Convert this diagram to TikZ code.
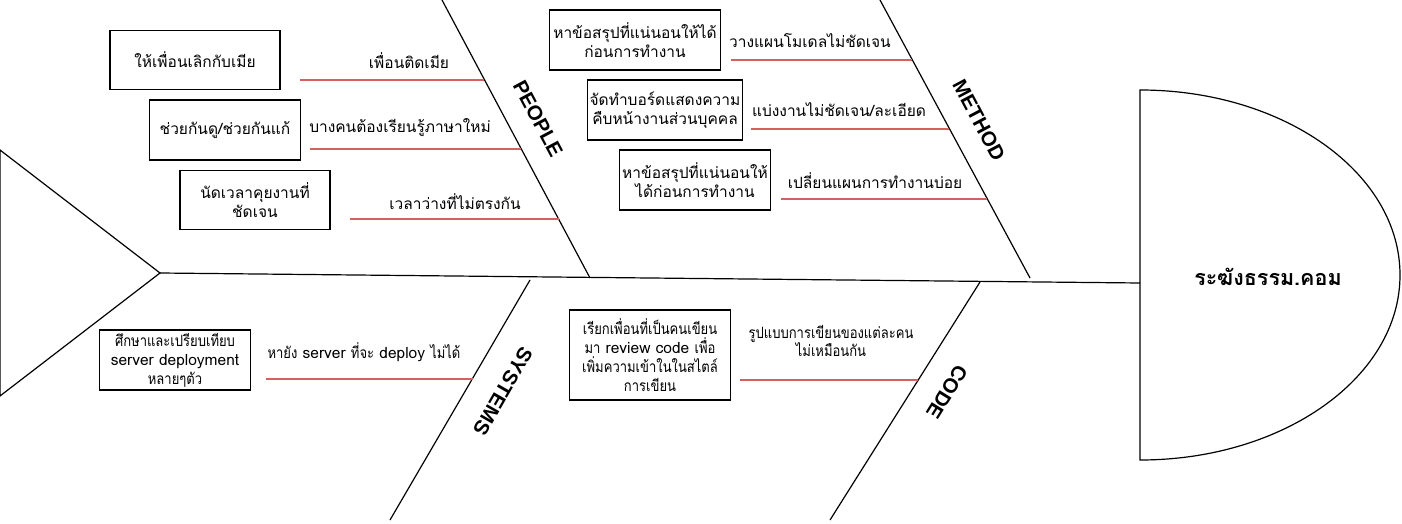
\documentclass[tikz,border=0pt]{standalone}
\usepackage{fontspec}
\setmainfont[Script=Thai]{Loma}
\newfontfamily\thainarrow[Script=Thai,FakeStretch=0.84]{Loma}
\newfontfamily\bonefont{Liberation Sans}
\usetikzlibrary{positioning, calc}
\definecolor{causeRed}{RGB}{212, 96, 96}

\begin{document}
\begin{tikzpicture}[x=1pt,y=-1pt,
  fixbox/.style={draw,line width=1.2pt,align=center,inner sep=2pt,font=\fontsize{15.5}{19}\selectfont},
  causetxt/.style={align=center,inner sep=1pt,font=\fontsize{15.5}{18}\selectfont},
  bone/.style={line width=1.2pt},
  causeline/.style={draw=causeRed,line width=1.3pt},
  bonelabel/.style={font=\bonefont\bfseries\fontsize{20.5}{22}\selectfont}]
\useasboundingbox (0,0) rectangle (1402,524);

% tail, spine, head
\coordinate (tailTop) at (0,150);
\coordinate (tailTip) at (160,273);
\coordinate (tailBot) at (0,396);
\coordinate (headIn) at (1140,283);
\draw[bone] (tailTop) -- (tailTip) -- (tailBot) -- cycle;
\draw[bone] (tailTip) -- (headIn);
\draw[bone] (1140,90) -- (1140,460) arc[start angle=90,end angle=-90,x radius=260,y radius=185] -- cycle;
\node[font=\bfseries\fontsize{21.5}{24}\selectfont] (headTxt) at (1268,277) {ระฆังธรรม.คอม};

% bones
\coordinate (peopleTop) at (442,0);
\coordinate (peopleEnd) at (590,278);
\coordinate (methodTop) at (880,0);
\coordinate (methodEnd) at (1030,278);
\coordinate (systemsEnd) at (530,280);
\coordinate (systemsBot) at (390,520);
\coordinate (codeEnd) at (980,282);
\coordinate (codeBot) at (830,520);
\draw[bone] (peopleTop) -- (peopleEnd);
\draw[bone] (methodTop) -- (methodEnd);
\draw[bone] (systemsEnd) -- (systemsBot);
\draw[bone] (codeEnd) -- (codeBot);
\node[bonelabel,rotate=-62] (peopleLbl) at (538,119) {PEOPLE};
\node[bonelabel,rotate=-62] (methodLbl) at (979,120) {METHOD};
\node[bonelabel,rotate=-120] (systemsLbl) at (503,391) {SYSTEMS};
\node[bonelabel,rotate=-122] (codeLbl) at (947,392) {CODE};

% people
\node[fixbox,minimum width=170,minimum height=59] (p1) at (195,60) {ให้เพื่อนเลิกกับเมีย};
\node[fixbox,minimum width=151,minimum height=60] (p2) at (225,130) {ช่วยกันดู/ช่วยกันแก้};
\node[fixbox,minimum width=150,minimum height=59] (p3) at (255,200) {นัดเวลาคุยงานที่\\ชัดเจน};
\node[causetxt] (pc1) at (409,61) {เพื่อนติดเมีย};
\node[causetxt] (pc2) at (400,128) {บางคนต้องเรียนรู้ภาษาใหม่};
\node[causetxt] (pc3) at (455,202) {เวลาว่างที่ไม่ตรงกัน};
\coordinate (pS1) at (300,80);  \coordinate (pE1) at (484,80);
\coordinate (pS2) at (310,149); \coordinate (pE2) at (521,149);
\coordinate (pS3) at (350,219); \coordinate (pE3) at (559,219);
\draw[causeline] (pS1) -- (pE1);
\draw[causeline] (pS2) -- (pE2);
\draw[causeline] (pS3) -- (pE3);

% method
\node[fixbox,minimum width=171,minimum height=60] (m1) at (635,40) {หาข้อสรุปที่แน่นอนให้ได้\\ก่อนการทำงาน};
\node[fixbox,minimum width=151,minimum height=60] (m2) at (665,110) {จัดทำบอร์ดแสดงความ\\คืบหน้างานส่วนบุคคล};
\node[fixbox,minimum width=151,minimum height=60] (m3) at (695,180) {หาข้อสรุปที่แน่นอนให้\\ได้ก่อนการทำงาน};
\node[causetxt] (mc1) at (810,41) {วางแผนโมเดลไม่ชัดเจน};
\node[causetxt] (mc2) at (839,110) {แบ่งงานไม่ชัดเจน/ละเอียด};
\node[causetxt] (mc3) at (875,181) {เปลี่ยนแผนการทำงานบ่อย};
\coordinate (mS1) at (731,60);  \coordinate (mE1) at (912,60);
\coordinate (mS2) at (751,129); \coordinate (mE2) at (949,129);
\coordinate (mS3) at (781,199); \coordinate (mE3) at (987,199);
\draw[causeline] (mS1) -- (mE1);
\draw[causeline] (mS2) -- (mE2);
\draw[causeline] (mS3) -- (mE3);

% systems
\node[fixbox,minimum width=151,minimum height=60] (s1) at (175,360) {{\thainarrow ศึกษาและเปรียบเทียบ}\\server deployment\\{\thainarrow หลายๆตัว}};
\node[causetxt] (sc1) at (364,352) {{\thainarrow หายัง} server {\thainarrow ที่จะ} deploy {\thainarrow ไม่ได้}};
\coordinate (sS1) at (266,379); \coordinate (sE1) at (473,379);
\draw[causeline] (sS1) -- (sE1);

% code
\node[fixbox,minimum width=161,minimum height=90] (c1) at (650,355) {{\thainarrow เรียกเพื่อนที่เป็นคนเขียน}\\{\thainarrow มา} review code {\thainarrow เพื่อ}\\{\thainarrow เพิ่มความเข้าในในสไตล์}\\{\thainarrow การเขียน}};
\node[causetxt,font=\thainarrow\fontsize{15.5}{18}\selectfont] (cc1) at (831,341) {รูปแบบการเขียนของแต่ละคน\\ไม่เหมือนกัน};
\coordinate (cS1) at (740,380); \coordinate (cE1) at (918,380);
\draw[causeline] (cS1) -- (cE1);
\end{tikzpicture}
\end{document}
